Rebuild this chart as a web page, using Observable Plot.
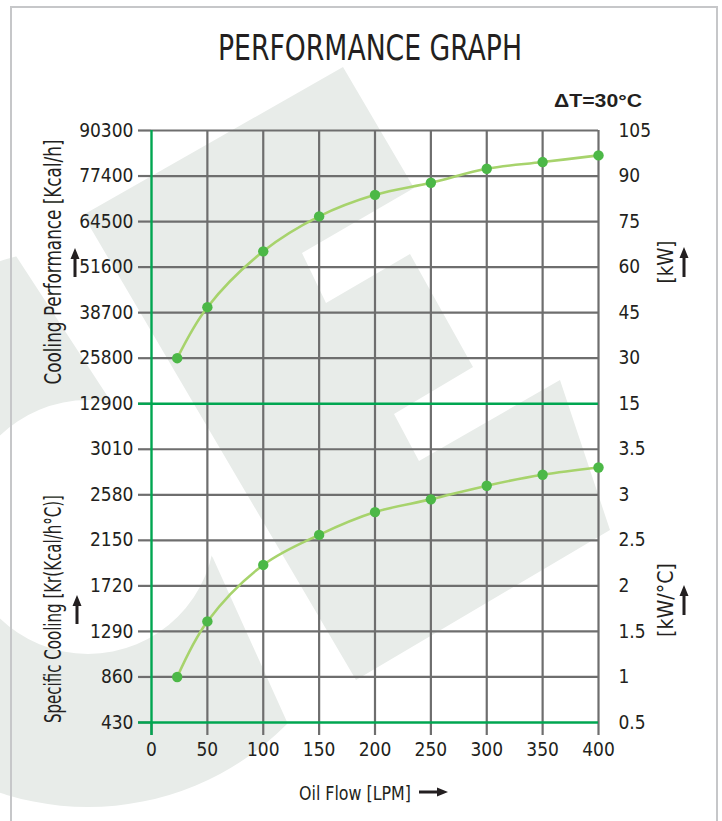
<!DOCTYPE html>
<html>
<head>
<meta charset="utf-8">
<script src="https://cdn.jsdelivr.net/npm/d3@7"></script>
<script src="https://cdn.jsdelivr.net/npm/@observablehq/plot@0.6"></script>
<style>
  html, body { margin: 0; padding: 0; background: #ffffff; }
  #chart { position: relative; width: 722px; height: 821px; overflow: hidden; }
</style>
</head>
<body>
<div id="chart"></div>
<script>
// ---- data ----
const flowLPM = [23, 50, 100, 150, 200, 250, 300, 350, 400];
const coolingKW = [30, 46.8, 65.2, 76.7, 83.8, 87.8, 92.4, 94.6, 96.8];
const specificKWperC = [1.0, 1.61, 2.23, 2.56, 2.81, 2.95, 3.10, 3.22, 3.30];
const xTickValues = [0, 50, 100, 150, 200, 250, 300, 350, 400];
const leftTickLabels = ["430", "860", "1290", "1720", "2150", "2580", "3010",
  "12900", "25800", "38700", "51600", "64500", "77400", "90300"];
const rightTickLabels = ["0.5", "1", "1.5", "2", "2.5", "3", "3.5",
  "15", "30", "45", "60", "75", "90", "105"];
const titleText = "PERFORMANCE GRAPH";
const deltaText = "ΔT=30°C";
const xLabel = "Oil Flow [LPM]";
const leftTopLabel = "Cooling Performance [Kcal/h]";
const leftBottomLabel = "Specific Cooling [Kr(Kcal/h°C)]";
const rightTopLabel = "[kW]";
const rightBottomLabel = "[kW/°C]";

// row units: 0..6 lower panel (0.5..3.5 kW/°C), 7..13 upper panel (15..105 kW)
const rows = d3.range(0, 14);
const topRow = kw => 6 + kw / 15;
const bottomRow = k => 2 * k - 1;

const topData = flowLPM.map((f, i) => ({flow: f, row: topRow(coolingKW[i])}));
const bottomData = flowLPM.map((f, i) => ({flow: f, row: bottomRow(specificKWperC[i])}));

const GRAY = "#6e6e6e";
const GREEN = "#00a651";
const LINE = "#a7d36c";
const DOT = "#4cb847";
const INK = "#231f20";
const NARROW = "'Liberation Sans Narrow','DejaVu Sans Condensed','Roboto Condensed','Arial Narrow',sans-serif";

const plot = Plot.plot({
  width: 722,
  height: 821,
  marginLeft: 151,
  marginRight: 124,
  marginTop: 130,
  marginBottom: 99,
  x: {domain: [0, 400]},
  y: {domain: [0, 13]},
  style: {background: "transparent", fontFamily: NARROW, fontSize: "19px", color: INK},
  marks: [
    Plot.ruleY(rows.filter(r => r !== 0 && r !== 7), {stroke: GRAY, strokeWidth: 2.2}),
    Plot.ruleX(xTickValues.filter(v => v !== 0), {stroke: GRAY, strokeWidth: 2.2}),
    Plot.axisX({ticks: xTickValues, tickSize: 13, tickPadding: 7, stroke: GRAY, strokeWidth: 2.2,
      label: null, fontSize: 19, fill: INK, tickFormat: d => String(d)}),
    Plot.axisY({ticks: rows, anchor: "left", tickSize: 13, tickPadding: 5, stroke: GRAY, strokeWidth: 2.2,
      label: null, fontSize: 19, fill: INK, tickFormat: i => leftTickLabels[i]}),
    Plot.axisY({ticks: rows, anchor: "right", tickSize: 0, tickPadding: 20,
      label: null, fontSize: 19, fill: INK, textAnchor: "start", tickFormat: i => rightTickLabels[i]}),
    Plot.ruleY([0, 7], {stroke: GREEN, strokeWidth: 2.4}),
    Plot.axisY([0, 7], {anchor: "left", tickSize: 13, stroke: GREEN, strokeWidth: 2.4, label: null, tickFormat: () => ""}),
    Plot.ruleX([0], {stroke: GREEN, strokeWidth: 2.4}),
    Plot.axisX([0], {tickSize: 13, stroke: GREEN, strokeWidth: 2.4, label: null, tickFormat: () => ""}),
    Plot.line(topData, {x: "flow", y: "row", curve: "catmull-rom", stroke: LINE, strokeWidth: 2.6}),
    Plot.line(bottomData, {x: "flow", y: "row", curve: "catmull-rom", stroke: LINE, strokeWidth: 2.6}),
    Plot.dot(topData, {x: "flow", y: "row", r: 5.2, fill: DOT}),
    Plot.dot(bottomData, {x: "flow", y: "row", r: 5.2, fill: DOT})
  ]
});

document.getElementById("chart").appendChild(plot);
const svg = d3.select(plot);

// ---- background watermark (decorative logo) ----
const wm = svg.insert("g", ":first-child").attr("fill", "#e8ece9");
wm.append("path").attr("d",
  "M83,215 L343,67 L414,188 L302,253 L326,303 L410,254 L473,367 L394,414 L419,461 L560,380 L610,530 L356,680 Z");
const defs = svg.insert("defs", ":first-child");
defs.append("clipPath").attr("id", "ringclip").append("path")
  .attr("d", "M-120,180 L-20,200 L18,259 L213,558 L283,713 L367,900 L-120,900 Z");
const cx = 88, cy = 527, ro = 280, ri = 127;
wm.append("path")
  .attr("clip-path", "url(#ringclip)")
  .attr("fill-rule", "evenodd")
  .attr("d", `M${cx - ro},${cy} a${ro},${ro} 0 1,0 ${2 * ro},0 a${ro},${ro} 0 1,0 ${-2 * ro},0 Z
              M${cx - ri},${cy} a${ri},${ri} 0 1,0 ${2 * ri},0 a${ri},${ri} 0 1,0 ${-2 * ri},0 Z`);

// frame
svg.append("path").attr("d", "M11,821 L11,7 L717,7 L717,821")
  .attr("fill", "none").attr("stroke", "#c6c7c9").attr("stroke-width", 2);

// ---- texts ----
function addText(t, x, y, opts) {
  const el = svg.append("text").text(t)
    .attr("x", x).attr("y", y)
    .attr("fill", INK)
    .attr("font-family", opts.family || NARROW)
    .attr("font-size", opts.size)
    .attr("text-anchor", opts.anchor || "middle");
  if (opts.weight) el.attr("font-weight", opts.weight);
  if (opts.len) el.attr("textLength", opts.len).attr("lengthAdjust", "spacingAndGlyphs");
  if (opts.rotate) el.attr("transform", `rotate(${opts.rotate},${x},${y})`);
  return el;
}
addText(titleText, 370, 60, {size: 35, len: 304});
addText(deltaText, 642, 107, {size: 19, weight: "bold", anchor: "end", len: 88,
  family: "'Liberation Sans',Arial,sans-serif"});
addText(xLabel, 299, 800, {size: 20, anchor: "start", len: 112});
addText(leftTopLabel, 61, 262, {size: 23, len: 245, rotate: -90});
addText(leftBottomLabel, 61, 609, {size: 23, len: 228, rotate: -90});
addText(rightTopLabel, 673, 262, {size: 22, len: 43, rotate: -90});
addText(rightBottomLabel, 673, 600, {size: 22, len: 74, rotate: -90});

// ---- arrows ----
function arrowUp(x, y0, y1) {
  svg.append("path").attr("fill", INK)
    .attr("d", `M${x},${y0} L${x + 4.5},${y0 + 11} L${x + 1.5},${y0 + 11} L${x + 1.5},${y1} L${x - 1.5},${y1} L${x - 1.5},${y0 + 11} L${x - 4.5},${y0 + 11} Z`);
}
function arrowRight(x0, x1, y) {
  svg.append("path").attr("fill", INK)
    .attr("d", `M${x1},${y} L${x1 - 11},${y - 4.5} L${x1 - 11},${y - 1.5} L${x0},${y - 1.5} L${x0},${y + 1.5} L${x1 - 11},${y + 1.5} L${x1 - 11},${y + 4.5} Z`);
}
arrowUp(75, 248, 277);
arrowUp(77, 595, 624);
arrowUp(684, 247, 277);
arrowUp(684, 585, 615);
arrowRight(419, 448, 792);
</script>
</body>
</html>
